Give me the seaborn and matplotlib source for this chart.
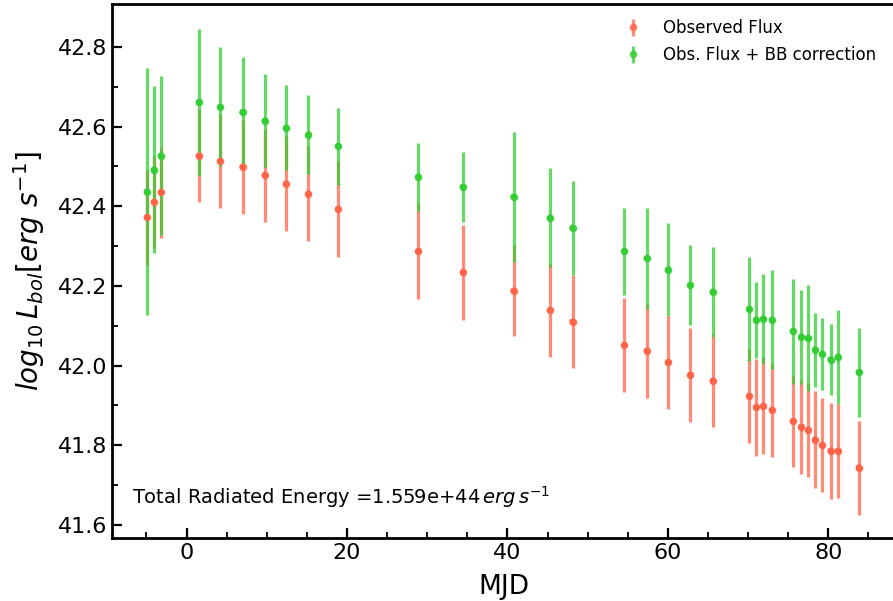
import numpy as np
import pandas as pd
import matplotlib
matplotlib.use("Agg")
import matplotlib.pyplot as plt
import seaborn as sns

mjd = [-4.94, -4.07, -3.2, 1.53, 4.19, 6.97, 9.75, 12.41, 15.19, 18.89,
       28.89, 34.45, 40.76, 45.29, 48.11, 54.58, 57.37, 60.02, 62.8, 65.59,
       70.15, 71.02, 71.89, 72.98, 75.59, 76.63, 77.5, 78.37, 79.24, 80.28,
       81.19, 83.81]
obs_flux = [42.372, 42.411, 42.435, 42.527, 42.513, 42.499, 42.478, 42.457, 42.432, 42.393,
            42.287, 42.234, 42.188, 42.139, 42.110, 42.051, 42.037, 42.008, 41.977, 41.962,
            41.924, 41.895, 41.899, 41.889, 41.860, 41.846, 41.839, 41.814, 41.800, 41.786,
            41.786, 41.744]
obs_err = [0.12, 0.115, 0.115, 0.117, 0.118, 0.118, 0.117, 0.12, 0.12, 0.12,
           0.121, 0.12, 0.114, 0.117, 0.117, 0.118, 0.118, 0.117, 0.118, 0.117,
           0.118, 0.121, 0.122, 0.118, 0.114, 0.118, 0.118, 0.121, 0.118, 0.121,
           0.118, 0.118]
bb_flux = [42.437, 42.492, 42.527, 42.661, 42.650, 42.636, 42.615, 42.597, 42.580, 42.551,
           42.474, 42.449, 42.424, 42.371, 42.346, 42.287, 42.269, 42.241, 42.202, 42.185,
           42.142, 42.115, 42.118, 42.115, 42.086, 42.072, 42.069, 42.040, 42.029, 42.015,
           42.022, 41.983]
bb_err = [0.31, 0.21, 0.2, 0.184, 0.15, 0.14, 0.117, 0.107, 0.1, 0.097,
          0.086, 0.088, 0.163, 0.124, 0.118, 0.11, 0.128, 0.117, 0.1, 0.113,
          0.131, 0.095, 0.113, 0.124, 0.131, 0.117, 0.134, 0.093, 0.09, 0.09,
          0.118, 0.111]

red = "#ff6347"
green = "#32cd32"

df = pd.DataFrame({"MJD": mjd, "obs": obs_flux, "obs_err": obs_err,
                   "bb": bb_flux, "bb_err": bb_err})

fig = plt.figure(figsize=(8.93, 6.01), dpi=100)
# right spine sits just past the figure edge, as in the (cropped) reference
ax = fig.add_axes([0.1254, 0.1048, 0.8768, 0.8885])

ax.errorbar(df["MJD"], df["obs"], yerr=df["obs_err"], fmt="o", color=red,
            ms=4.5, elinewidth=2.3, alpha=0.75, capsize=0, label="Observed Flux", zorder=2)
ax.errorbar(df["MJD"], df["bb"], yerr=df["bb_err"], fmt="o", color=green,
            ms=4.5, elinewidth=2.3, alpha=0.75, capsize=0, label="Obs. Flux + BB correction", zorder=2)
sns.scatterplot(data=df, x="MJD", y="obs", color=red, s=22, edgecolor="none",
                ax=ax, zorder=3, legend=False)
sns.scatterplot(data=df, x="MJD", y="bb", color=green, s=22, edgecolor="none",
                ax=ax, zorder=3, legend=False)

ax.set_xlim(-9.3, 88.3)
ax.set_ylim(41.567, 42.908)
ax.set_xticks([0, 20, 40, 60, 80])
ax.set_xticks(np.arange(-5, 88, 5), minor=True)
ax.set_yticks([41.6, 41.8, 42.0, 42.2, 42.4, 42.6, 42.8])
ax.set_yticks(np.arange(41.7, 42.9, 0.2), minor=True)
ax.tick_params(which="major", direction="in", length=7, width=1.6, labelsize=16)
ax.tick_params(which="minor", direction="in", length=4, width=1.3)
for s in ax.spines.values():
    s.set_linewidth(2)

ax.set_xlabel("MJD", fontsize=19, labelpad=8)
ax.set_ylabel(r"$log_{10}\,L_{bol}[erg\ s^{-1}]$", fontsize=20, labelpad=8)

ax.legend(loc="upper left", bbox_to_anchor=(0.638, 1.0), frameon=False, fontsize=12,
          handlelength=0.8, handletextpad=1.4, borderaxespad=0.5, labelspacing=0.55)
ax.text(0.026, 0.064, r"Total Radiated Energy =1.559e+44$\,erg\,s^{-1}$",
        transform=ax.transAxes, fontsize=14)

fig.savefig("out.png", dpi=100)
